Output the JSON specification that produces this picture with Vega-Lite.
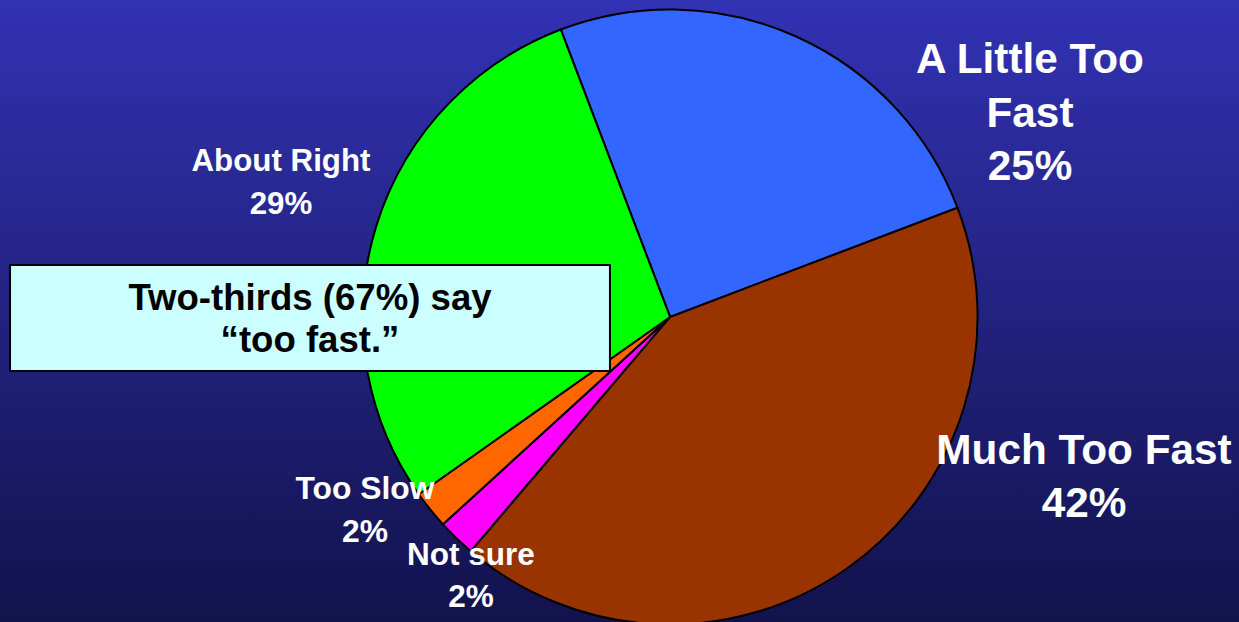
{
  "$schema": "https://vega.github.io/schema/vega-lite/v6.json",
  "width": 1239,
  "height": 622,
  "autosize": {"type": "none"},
  "padding": 0,
  "background": "#1c1c66",
  "config": {"view": {"stroke": null}, "text": {"font": "Liberation Sans", "fontWeight": "bold"}},
  "data": {
    "values": [
      {"category": "A Little Too Fast", "value": 25, "order": 1, "label": "A Little Too\nFast\n25%"},
      {"category": "Much Too Fast", "value": 42, "order": 2, "label": "Much Too Fast\n42%"},
      {"category": "Not sure", "value": 2, "order": 3, "label": "Not sure\n2%"},
      {"category": "Too Slow", "value": 2, "order": 4, "label": "Too Slow\n2%"},
      {"category": "About Right", "value": 29, "order": 5, "label": "About Right\n29%"}
    ]
  },
  "layer": [
    {
      "data": {"values": [{"bg": 1}]},
      "mark": {
        "type": "rect",
        "fill": {
          "gradient": "linear", "x1": 0, "y1": 0, "x2": 0, "y2": 1,
          "stops": [{"offset": 0, "color": "#3232B4"}, {"offset": 1, "color": "#12124C"}]
        }
      },
      "encoding": {
        "x": {"datum": 0, "type": "quantitative", "scale": {"domain": [0, 100], "nice": false, "zero": false}, "axis": null},
        "x2": {"datum": 100},
        "y": {"datum": 0, "type": "quantitative", "scale": {"domain": [0, 100], "nice": false, "zero": false, "reverse": true}, "axis": null},
        "y2": {"datum": 100}
      }
    },
    {
      "mark": {"type": "arc", "outerRadius": 307.5, "stroke": "#000000", "strokeWidth": 2},
      "encoding": {
        "x": {"datum": 54.08, "type": "quantitative"},
        "y": {"datum": 50.96, "type": "quantitative"},
        "theta": {"field": "value", "type": "quantitative", "stack": true, "scale": {"range": [-0.363, 5.920]}},
        "order": {"field": "order", "type": "quantitative"},
        "color": {
          "field": "category", "type": "nominal", "legend": null,
          "scale": {
            "domain": ["A Little Too Fast", "Much Too Fast", "Not sure", "Too Slow", "About Right"],
            "range": ["#3366FF", "#993300", "#FF00FF", "#FF6600", "#00FF00"]
          }
        }
      }
    },
    {
      "data": {"values": [{"note": "Two-thirds (67%) say\n\u201ctoo fast.\u201d"}]},
      "layer": [
        {
          "mark": {"type": "rect", "fill": "#CCFFFF", "stroke": "#000000", "strokeWidth": 2},
          "encoding": {
            "x": {"datum": 0.81, "type": "quantitative"},
            "x2": {"datum": 49.23},
            "y": {"datum": 42.6, "type": "quantitative"},
            "y2": {"datum": 59.65}
          }
        },
        {
          "mark": {"type": "text", "fontSize": 36.6, "lineHeight": 42, "lineBreak": "\n", "align": "center", "baseline": "alphabetic", "color": "#000000"},
          "encoding": {
            "x": {"datum": 25.02, "type": "quantitative"},
            "y": {"datum": 49.84, "type": "quantitative"},
            "text": {"field": "note"}
          }
        }
      ]
    },
    {
      "transform": [{"filter": "datum.category === 'A Little Too Fast'"}],
      "mark": {"type": "text", "fontSize": 42.3, "lineHeight": 53.5, "lineBreak": "\n", "align": "center", "baseline": "alphabetic", "color": "#FFFFFF"},
      "encoding": {
        "x": {"datum": 83.13, "type": "quantitative"},
        "y": {"datum": 11.78, "type": "quantitative"},
        "text": {"field": "label"}
      }
    },
    {
      "transform": [{"filter": "datum.category === 'Much Too Fast'"}],
      "mark": {"type": "text", "fontSize": 42.3, "lineHeight": 53, "lineBreak": "\n", "align": "center", "baseline": "alphabetic", "color": "#FFFFFF"},
      "encoding": {
        "x": {"datum": 87.49, "type": "quantitative"},
        "y": {"datum": 74.6, "type": "quantitative"},
        "text": {"field": "label"}
      }
    },
    {
      "transform": [{"filter": "datum.category === 'About Right'"}],
      "mark": {"type": "text", "fontSize": 31.3, "lineHeight": 43, "lineBreak": "\n", "align": "center", "baseline": "alphabetic", "color": "#FFFFFF"},
      "encoding": {
        "x": {"datum": 22.68, "type": "quantitative"},
        "y": {"datum": 27.44, "type": "quantitative"},
        "text": {"field": "label"}
      }
    },
    {
      "transform": [{"filter": "datum.category === 'Too Slow'"}],
      "mark": {"type": "text", "fontSize": 31.8, "lineHeight": 42.5, "lineBreak": "\n", "align": "center", "baseline": "alphabetic", "color": "#FFFFFF"},
      "encoding": {
        "x": {"datum": 29.46, "type": "quantitative"},
        "y": {"datum": 80.23, "type": "quantitative"},
        "text": {"field": "label"}
      }
    },
    {
      "transform": [{"filter": "datum.category === 'Not sure'"}],
      "mark": {"type": "text", "fontSize": 31.5, "lineHeight": 42, "lineBreak": "\n", "align": "center", "baseline": "alphabetic", "color": "#FFFFFF"},
      "encoding": {
        "x": {"datum": 38.01, "type": "quantitative"},
        "y": {"datum": 90.84, "type": "quantitative"},
        "text": {"field": "label"}
      }
    }
  ]
}
